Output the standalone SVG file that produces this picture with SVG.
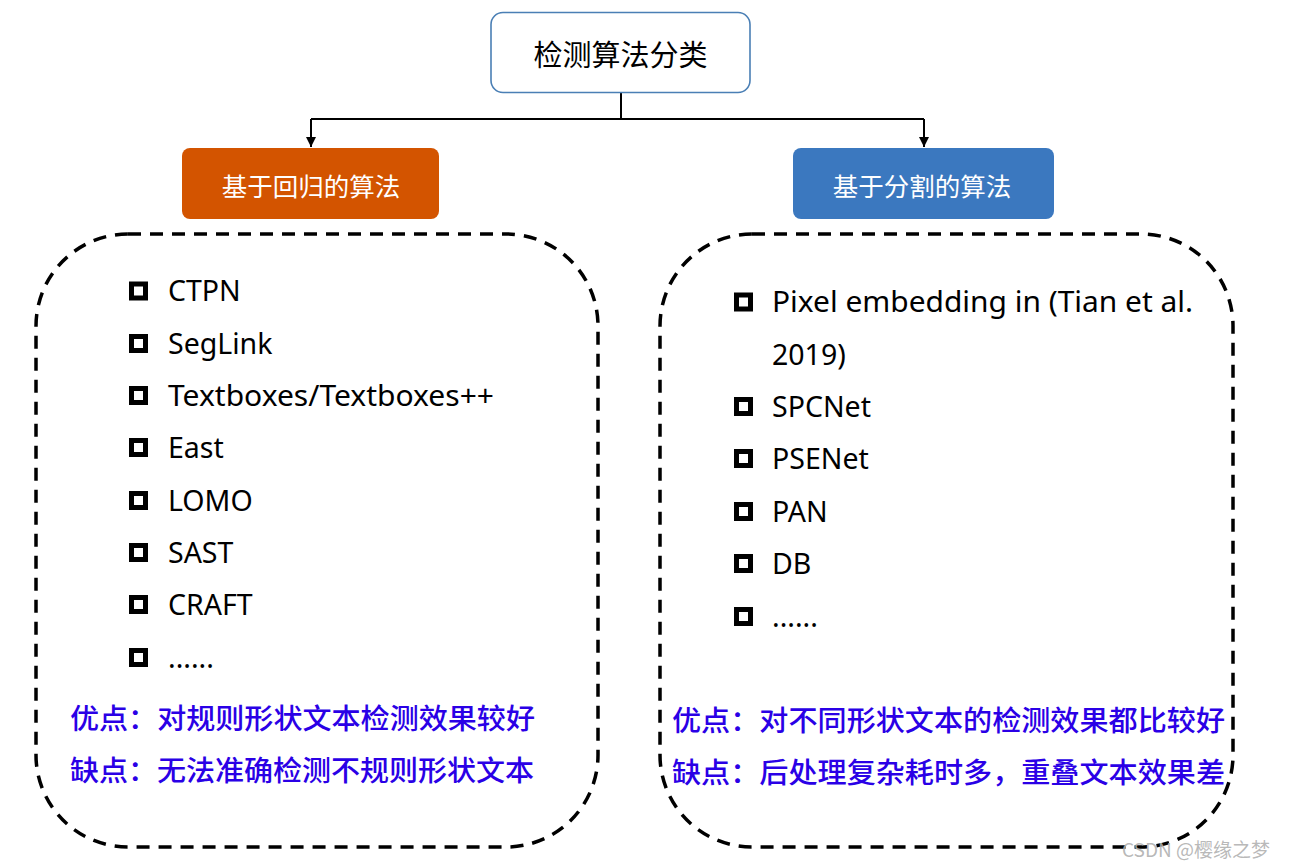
<svg xmlns="http://www.w3.org/2000/svg" width="1289" height="865" viewBox="0 0 1289 865">
<style>
.cjk{font-family:"Noto Sans CJK SC","Noto Sans",sans-serif;}
.lat{font-family:"Noto Sans","Noto Sans CJK SC",sans-serif;font-size:28.5px;fill:#000;}
.blue{font-family:"Noto Sans CJK SC",sans-serif;font-size:28px;font-weight:500;fill:#2a00e6;}
.sq{fill:none;stroke:#000;stroke-width:5;}
.dash{fill:none;stroke:#000;stroke-width:3.5;stroke-dasharray:13 9;}
.conn{fill:none;stroke:#000;stroke-width:2;}
</style>
<defs>
<marker id="arr" viewBox="0 0 10 10" refX="10" refY="5" markerWidth="5" markerHeight="5" orient="auto" markerUnits="strokeWidth">
<path d="M0,0 L10,5 L0,10 z" fill="#000"/>
</marker>
</defs>
<rect width="1289" height="865" fill="#fff"/>
<g id="connectors">
<path class="conn" d="M621,92 V119"/>
<path class="conn" d="M311,119 H924"/>
<path class="conn" d="M311,119 V147" marker-end="url(#arr)"/>
<path class="conn" d="M924,119 V147" marker-end="url(#arr)"/>
</g>
<g id="root">
<rect x="491" y="12.5" width="259" height="80" rx="12" fill="#fff" stroke="#4a7fb5" stroke-width="1.6"/>
<text class="cjk" x="620.5" y="53" font-size="29" text-anchor="middle" dominant-baseline="central">检测算法分类</text>
</g>
<g id="regression">
<rect x="182" y="148" width="257" height="71" rx="8" fill="#d35400"/>
<text class="cjk" x="311" y="184" font-size="25.5" fill="#fff" text-anchor="middle" dominant-baseline="central">基于回归的算法</text>
</g>
<g id="segmentation">
<rect x="793" y="148" width="261" height="71" rx="8" fill="#3b78bf"/>
<text class="cjk" x="922" y="184" font-size="25.5" fill="#fff" text-anchor="middle" dominant-baseline="central">基于分割的算法</text>
</g>
<g id="regression-list">
<rect class="dash" x="36" y="234" width="562" height="613" rx="92"/>
<g>
<rect class="sq" x="131.5" y="284" width="14" height="14"/>
<rect class="sq" x="131.5" y="336.5" width="14" height="14"/>
<rect class="sq" x="131.5" y="388.5" width="14" height="14"/>
<rect class="sq" x="131.5" y="440.5" width="14" height="14"/>
<rect class="sq" x="131.5" y="493.5" width="14" height="14"/>
<rect class="sq" x="131.5" y="545.5" width="14" height="14"/>
<rect class="sq" x="131.5" y="597.5" width="14" height="14"/>
<rect class="sq" x="131.5" y="650.5" width="14" height="14"/>
</g>
<g class="lat" dominant-baseline="central">
<text x="168" y="290">CTPN</text>
<text x="168" y="343">SegLink</text>
<text x="168" y="395" textLength="326" lengthAdjust="spacingAndGlyphs">Textboxes/Textboxes++</text>
<text x="168" y="447">East</text>
<text x="168" y="500">LOMO</text>
<text x="168" y="552">SAST</text>
<text x="168" y="604">CRAFT</text>
<text x="168" y="657">......</text>
</g>
<text class="blue" x="70" y="717" dominant-baseline="central" textLength="465" lengthAdjust="spacingAndGlyphs">优点：对规则形状文本检测效果较好</text>
<text class="blue" x="70" y="769" dominant-baseline="central" textLength="464" lengthAdjust="spacingAndGlyphs">缺点：无法准确检测不规则形状文本</text>
</g>
<g id="segmentation-list">
<rect class="dash" x="660" y="234" width="573" height="613" rx="92"/>
<g>
<rect class="sq" x="736.5" y="295" width="14" height="14"/>
<rect class="sq" x="736.5" y="399.5" width="14" height="14"/>
<rect class="sq" x="736.5" y="451.5" width="14" height="14"/>
<rect class="sq" x="736.5" y="504.5" width="14" height="14"/>
<rect class="sq" x="736.5" y="556.5" width="14" height="14"/>
<rect class="sq" x="736.5" y="609.5" width="14" height="14"/>
</g>
<g class="lat" dominant-baseline="central">
<text x="772" y="301" textLength="421" lengthAdjust="spacingAndGlyphs">Pixel embedding in (Tian et al.</text>
<text x="772" y="354">2019)</text>
<text x="772" y="406">SPCNet</text>
<text x="772" y="458">PSENet</text>
<text x="772" y="511">PAN</text>
<text x="772" y="563">DB</text>
<text x="772" y="616">......</text>
</g>
<text class="blue" x="672" y="719" dominant-baseline="central" textLength="553" lengthAdjust="spacingAndGlyphs">优点：对不同形状文本的检测效果都比较好</text>
<text class="blue" x="672" y="771" dominant-baseline="central" textLength="553" lengthAdjust="spacingAndGlyphs">缺点：后处理复杂耗时多，重叠文本效果差</text>
</g>
<text class="cjk" x="1122" y="848" font-size="19" fill="#b0b0b0" dominant-baseline="central" fill-opacity="0.9">CSDN @樱缘之梦</text>
</svg>
